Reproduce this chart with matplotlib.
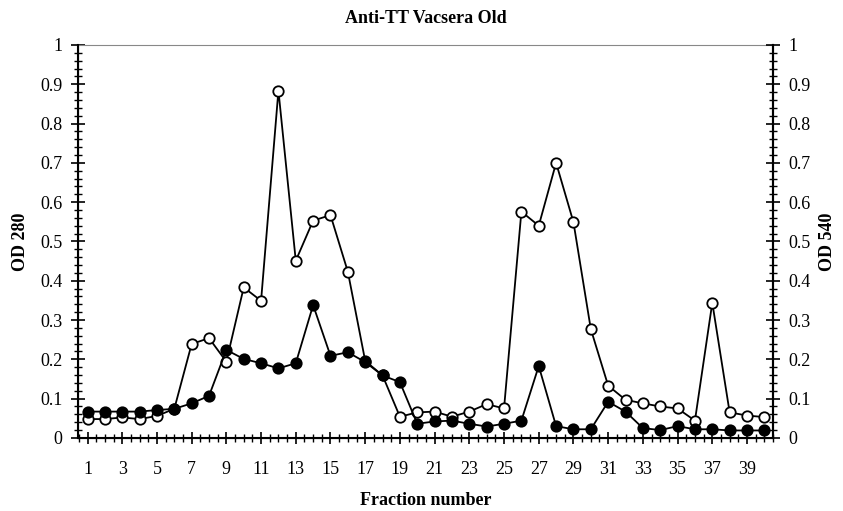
import matplotlib
matplotlib.use('Agg')
import matplotlib.pyplot as plt
from matplotlib.ticker import MultipleLocator, FixedLocator, FuncFormatter
import numpy as np

plt.rcParams['font.family'] = ['Liberation Serif', 'DejaVu Serif']

# Fraction numbers and the two absorbance profiles
fractions = np.arange(1, 41)
od_open = [0.048, 0.048, 0.052, 0.048, 0.056, 0.074, 0.239, 0.254, 0.194, 0.383,
           0.349, 0.884, 0.451, 0.553, 0.567, 0.423, 0.196, 0.159, 0.054, 0.065,
           0.067, 0.054, 0.067, 0.086, 0.075, 0.576, 0.540, 0.700, 0.549, 0.277,
           0.133, 0.097, 0.088, 0.080, 0.075, 0.044, 0.344, 0.065, 0.057, 0.053]
od_filled = [0.067, 0.067, 0.067, 0.067, 0.071, 0.074, 0.088, 0.107, 0.224, 0.201,
             0.190, 0.177, 0.190, 0.338, 0.209, 0.218, 0.193, 0.159, 0.142, 0.036,
             0.042, 0.044, 0.036, 0.029, 0.036, 0.044, 0.183, 0.030, 0.022, 0.022,
             0.092, 0.067, 0.025, 0.020, 0.030, 0.022, 0.022, 0.019, 0.019, 0.019]
x_labels = list(range(1, 40, 2))


def od_fmt(v, pos):
    if abs(v) < 1e-9:
        return '0'
    if abs(v - 1) < 1e-9:
        return '1'
    return f'{v:.1f}'


fig = plt.figure(figsize=(8.43, 5.11), dpi=100)
ax = fig.add_axes([0.0925, 0.143, 0.8245, 0.769])

ax.plot(fractions, od_open, color='black', lw=1.3, marker='o', ms=7.5,
        mfc='white', mec='black', mew=1.3, zorder=3)
ax.plot(fractions, od_filled, color='black', lw=1.3, marker='o', ms=7.5,
        mfc='black', mec='black', mew=1.3, zorder=4)

ax.set_xlim(0.45, 40.5)
ax.set_ylim(0, 1)

ax.xaxis.set_major_locator(FixedLocator(x_labels))
ax.xaxis.set_minor_locator(MultipleLocator(0.5))
ax.yaxis.set_major_locator(MultipleLocator(0.1))
ax.yaxis.set_minor_locator(MultipleLocator(0.02))
ax.yaxis.set_major_formatter(FuncFormatter(od_fmt))

ax.tick_params(axis='x', which='major', direction='inout', length=9, width=1.2,
               labelsize=13, pad=12)
ax.tick_params(axis='x', which='minor', direction='inout', length=6, width=1.0)
ax.tick_params(axis='y', which='major', direction='inout', length=10, width=1.2,
               labelsize=13, pad=6)
ax.tick_params(axis='y', which='minor', direction='inout', length=6, width=1.0)

ax.spines['top'].set_color('#888888')
ax.spines['top'].set_linewidth(0.8)
ax.spines['left'].set_linewidth(1.5)
ax.spines['bottom'].set_linewidth(1.5)
ax.spines['right'].set_linewidth(1.5)

ax2 = ax.twinx()
ax2.set_ylim(0, 1)
ax2.yaxis.set_major_locator(MultipleLocator(0.1))
ax2.yaxis.set_minor_locator(MultipleLocator(0.02))
ax2.yaxis.set_major_formatter(FuncFormatter(od_fmt))
ax2.tick_params(axis='y', which='major', direction='inout', length=10, width=1.2,
                labelsize=13, pad=6)
ax2.tick_params(axis='y', which='minor', direction='inout', length=6, width=1.0)
ax2.spines['top'].set_visible(False)
ax2.spines['right'].set_linewidth(1.5)

ax.set_ylabel('OD 280', fontsize=13, fontweight='bold', labelpad=8)
ax2.set_ylabel('OD 540', fontsize=13, fontweight='bold', labelpad=6)
ax.set_xlabel('Fraction number', fontsize=13, fontweight='bold', labelpad=10)
ax.set_title('Anti-TT Vacsera Old', fontsize=13, fontweight='bold', pad=16)

plt.savefig('out.png', dpi=100, facecolor='white')
plt.close(fig)
